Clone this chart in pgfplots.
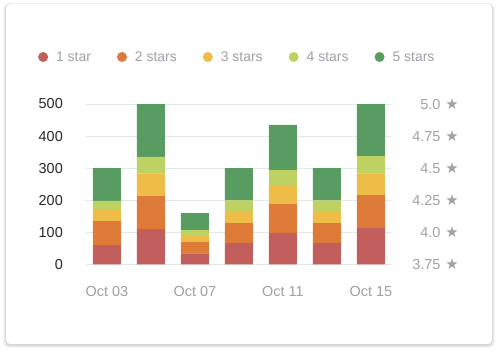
\documentclass[border=0pt]{standalone}
\usepackage{fontspec}
\setmainfont{Liberation Sans}
\newfontfamily\symfont{DejaVu Sans}
\usepackage{pgfplots}
\pgfplotsset{compat=1.18}
\definecolor{c1}{RGB}{194,94,91}
\definecolor{c2}{RGB}{222,123,57}
\definecolor{c3}{RGB}{237,189,72}
\definecolor{c4}{RGB}{190,210,100}
\definecolor{c5}{RGB}{88,156,97}
\definecolor{gridc}{RGB}{226,232,232}
\definecolor{graytext}{RGB}{160,160,168}
\definecolor{darktext}{RGB}{40,40,44}
\newcommand{\st}{\hspace{1bp}{\symfont\fontsize{15}{15}\selectfont ★}}
\begin{document}
\begin{tikzpicture}
\path[use as bounding box] (0bp,0bp) rectangle (498bp,352bp);
\foreach \i/\o in {3/0.03,2/0.05,1/0.07} {
  \fill[black,opacity=\o,rounded corners=5bp] ({6bp-\i bp},{8bp-\i bp-1bp}) rectangle ({492bp+\i bp},{348bp+0.3*\i bp});
}
\fill[white,rounded corners=4bp] (6bp,8bp) rectangle (492bp,348bp);
\begin{axis}[
  at={(86bp,87.5bp)}, anchor=south west,
  scale only axis, width=305bp, height=160.5bp,
  ybar stacked, bar width=28bp,
  xmin=-0.477, xmax=6.455, ymin=0, ymax=500,
  axis line style={draw=none}, major tick length=0pt,
  ymajorgrids, grid style={draw=gridc, line width=0.8bp},
  ytick={0,100,200,300,400,500}, yticklabels={0,100,200,300,400,500},
  xtick={0,2,4,6}, xticklabels={Oct 03,Oct 07,Oct 11,Oct 15},
  /pgf/number format/assume math mode=true,
  tick label style={font=\fontsize{14.5}{16}\selectfont},
  yticklabel style={text=darktext, anchor=east, inner sep=0pt, xshift=-23bp},
  xticklabel style={text=graytext, anchor=north, inner sep=0pt, yshift=-21.5bp},
  clip=false,
  legend columns=5,
  legend style={at={(-0.157,1.293)}, anchor=west, draw=none, fill=none,
    inner sep=0pt, outer sep=0pt, font=\fontsize{14}{16}\selectfont, text=graytext,
    nodes={inner sep=0pt},
    /tikz/every odd column/.append style={column sep=8bp},
    /tikz/every even column/.append style={column sep=26bp}},
  legend image code/.code={\fill[#1] (0bp,0bp) circle (5bp);},
]
\addplot[fill=c1, draw=none] coordinates {(0,60) (1,110) (2,35) (3,67) (4,98) (5,67) (6,113)};
\addplot[fill=c2, draw=none] coordinates {(0,75) (1,103) (2,35) (3,62) (4,90) (5,62) (6,103)};
\addplot[fill=c3, draw=none] coordinates {(0,35) (1,70) (2,19) (3,37) (4,57) (5,37) (6,67)};
\addplot[fill=c4, draw=none] coordinates {(0,28) (1,52) (2,18) (3,34) (4,49) (5,34) (6,55)};
\addplot[fill=c5, draw=none] coordinates {(0,102) (1,165) (2,53) (3,100) (4,141) (5,100) (6,162)};
\legend{1 star, 2 stars, 3 stars, 4 stars, 5 stars}
\end{axis}
\begin{axis}[
  at={(86bp,87.5bp)}, anchor=south west,
  scale only axis, width=305bp, height=160.5bp,
  xmin=-0.477, xmax=6.455, ymin=3.75, ymax=5,
  axis x line=none, axis y line*=right,
  axis line style={draw=none}, major tick length=0pt,
  ytick={3.75,4,4.25,4.5,4.75,5},
  yticklabels={3.75 \st, 4.0 \st, 4.25 \st, 4.5 \st, 4.75 \st, 5.0 \st},
  /pgf/number format/assume math mode=true,
  tick label style={font=\fontsize{14.5}{16}\selectfont},
  yticklabel style={text=graytext, anchor=east, inner sep=0pt, xshift=68bp},
]
\addplot[draw=none] coordinates {(0,4)};
\end{axis}
\end{tikzpicture}
\end{document}
